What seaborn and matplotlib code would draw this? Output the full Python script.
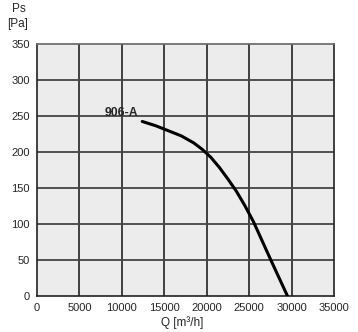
import matplotlib
matplotlib.use("Agg")
import matplotlib.pyplot as plt
import seaborn as sns
import pandas as pd

# Fan curve 906-A: static pressure vs. air flow
flow_m3h = [12400, 14000, 15500, 17000, 18500, 19500, 20500, 21500, 22500, 23500,
            24500, 25500, 26500, 27500, 28500, 29500]
pressure_pa = [242, 236, 229, 222, 212, 203, 192, 178, 162, 145,
               125, 103, 77, 51, 25.5, 0]
curve_label = "906-A"

x_ticks = [0, 5000, 10000, 15000, 20000, 25000, 30000, 35000]
y_ticks = [0, 50, 100, 150, 200, 250, 300, 350]

df = pd.DataFrame({"Q": flow_m3h, "Ps": pressure_pa})

sns.set_style("white", {"axes.facecolor": "#ececec"})
plt.rcParams["font.family"] = ["Liberation Sans", "DejaVu Sans"]

fig = plt.figure(figsize=(3.58, 3.32), dpi=100)
ax = fig.add_axes([37 / 358, 1 - 295.7 / 332, 297 / 358, 252 / 332])

sns.lineplot(data=df, x="Q", y="Ps", ax=ax, color="black", linewidth=2.2,
             sort=False, estimator=None, zorder=3)

ax.set_xlim(0, 35000)
ax.set_ylim(0, 350)
ax.set_xticks(x_ticks)
ax.set_yticks(y_ticks)
ax.set_xticklabels([str(v) for v in x_ticks], fontsize=8)
ax.set_yticklabels([str(v) for v in y_ticks], fontsize=8)

for v in x_ticks[1:-1]:
    ax.axvline(v, color="#111111", linewidth=1.1, zorder=1)
for v in y_ticks[1:-1]:
    ax.axhline(v, color="#444444", linewidth=1.3, zorder=1)

ax.tick_params(axis="both", direction="out", length=3, width=1.0, color="#333333", pad=2)
for side in ["left", "bottom", "right"]:
    ax.spines[side].set_color("#222222")
    ax.spines[side].set_linewidth(1.2)
ax.spines["top"].set_color("#666666")
ax.spines["top"].set_linewidth(1.2)
ax.set_xlabel("")
ax.set_ylabel("")

ax.text(11900, 254, curve_label, fontsize=8.8, fontweight="bold", ha="right", va="center",
        zorder=4)

fig.text(19 / 358, 1 - 9 / 332, "Ps", fontsize=8.5, ha="center", va="center")
fig.text(18 / 358, 1 - 24 / 332, "[Pa]", fontsize=8.5, ha="center", va="center")
fig.text(182 / 358, 1 - 323 / 332, "Q [m³/h]", fontsize=8.5, ha="center", va="center")

fig.savefig("out.png", dpi=100, facecolor="white")
